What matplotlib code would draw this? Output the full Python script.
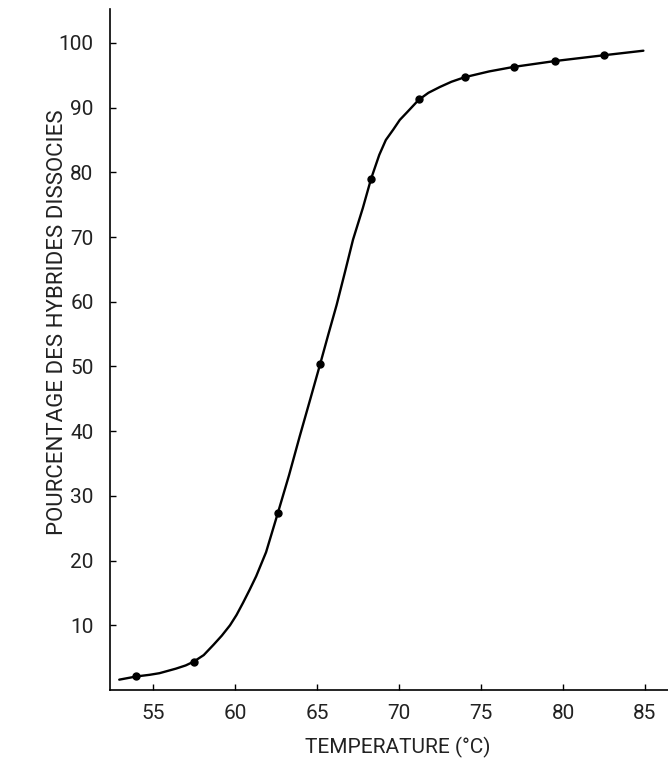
import matplotlib
matplotlib.use("Agg")
import matplotlib.pyplot as plt

# measured points
temp_pts = [54.0, 57.5, 62.6, 65.2, 68.3, 71.25, 74.05, 77.0, 79.5, 82.5]
pct_pts = [2.1, 4.4, 27.4, 50.4, 78.9, 91.3, 94.8, 96.3, 97.2, 98.1]

# hand-drawn curve
curve_t = [52.95, 54.0, 54.8, 55.4, 56.4, 57.0, 57.5, 58.1, 58.7, 59.2, 59.7,
           60.1, 60.5, 60.9, 61.3, 61.9, 62.6, 63.3, 63.95, 64.6, 65.2, 65.7,
           66.2, 66.7, 67.2, 67.8, 68.3, 68.8, 69.2, 69.65, 70.05, 70.5, 71.2,
           71.8, 72.5, 73.2, 74.0, 75.5, 77.0, 79.5, 82.5, 84.9]
curve_p = [1.6, 2.1, 2.35, 2.6, 3.3, 3.8, 4.4, 5.4, 7.0, 8.4, 10.0,
           11.6, 13.5, 15.5, 17.6, 21.3, 27.2, 33.2, 39.2, 45.0, 50.4, 55.0,
           59.5, 64.5, 69.6, 74.5, 79.0, 82.7, 85.0, 86.6, 88.1, 89.3, 91.2,
           92.3, 93.2, 94.0, 94.7, 95.6, 96.3, 97.2, 98.1, 98.8]

xticks = [55, 60, 65, 70, 75, 80, 85]
yticks = [10, 20, 30, 40, 50, 60, 70, 80, 90, 100]

plt.rcParams["font.family"] = ["Roboto", "DejaVu Sans"]

fig = plt.figure(figsize=(6.68, 7.74), dpi=100)
ax = fig.add_axes([0.165, 0.1085, 0.835, 0.8795])

ax.plot(curve_t, curve_p, color="black", lw=1.7, solid_capstyle="round",
        solid_joinstyle="round")
ax.plot(temp_pts, pct_pts, "o", color="black", ms=5)

ax.set_xlim(52.4, 86.4)
ax.set_ylim(0, 105.2)
ax.spines["top"].set_visible(False)
ax.spines["right"].set_visible(False)
for sp in ("left", "bottom"):
    ax.spines[sp].set_linewidth(1.2)

ax.set_xticks(xticks)
ax.set_yticks(yticks)
ax.tick_params(direction="in", length=4, width=1, pad=10, labelsize=15,
               labelcolor="#222222")
ax.tick_params(axis="y", pad=12)

ax.set_xlabel("TEMPERATURE (°C)", fontsize=15, color="#222222")
ax.set_ylabel("POURCENTAGE DES HYBRIDES DISSOCIES", fontsize=16, color="#222222")
ax.xaxis.set_label_coords(0.516, -0.069)
ax.yaxis.set_label_coords(-0.075, 0.54)

fig.savefig("out.png", dpi=100)
